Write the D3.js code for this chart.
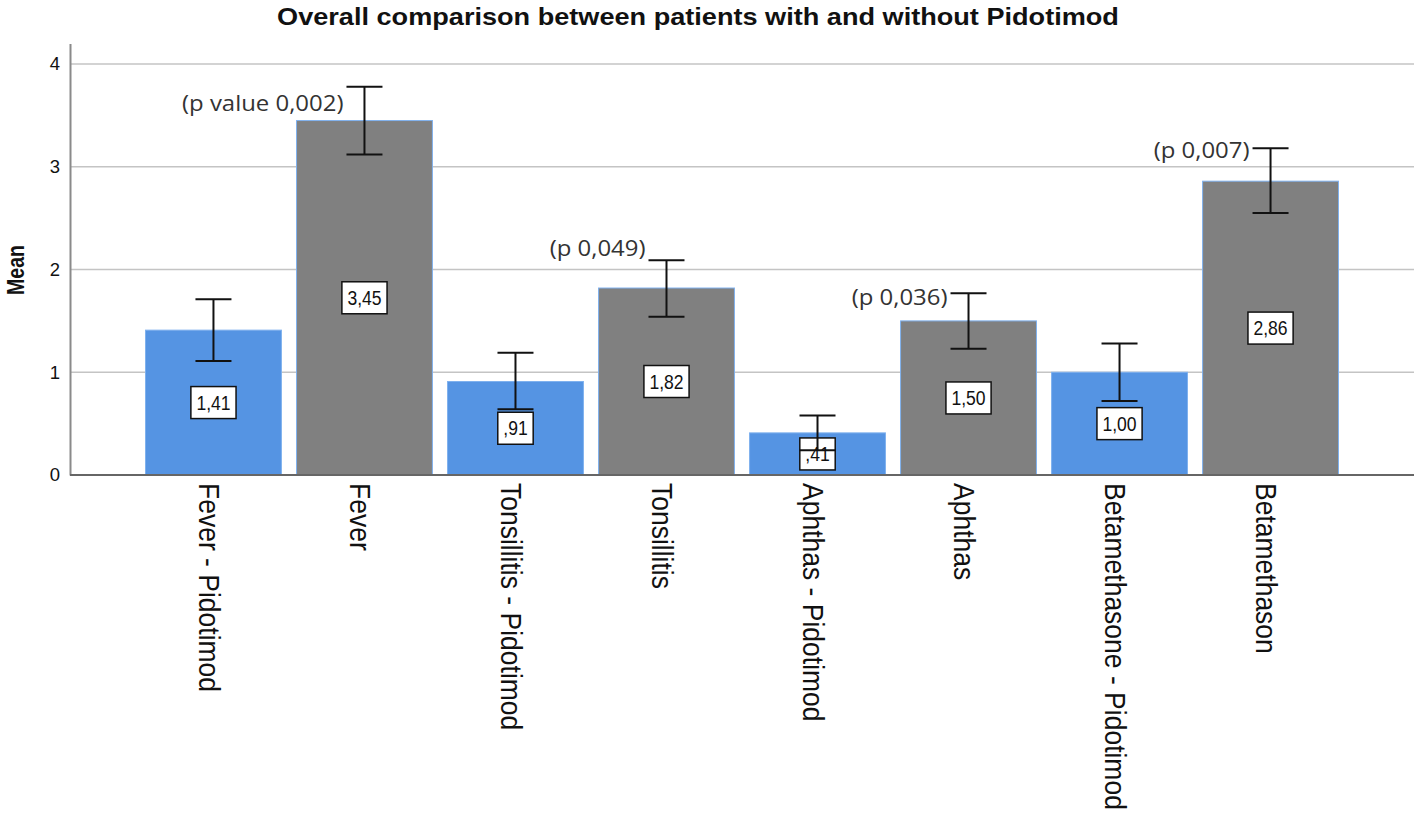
<!DOCTYPE html>
<html>
<head>
<meta charset="utf-8">
<script src="https://cdn.jsdelivr.net/npm/d3@7"></script>
<style>
  html, body { margin: 0; padding: 0; background: #fff; }
  svg { display: block; }
</style>
</head>
<body>
<svg id="chart" width="1418" height="818"></svg>
<script>
// ---- data ----
const categories = ["Fever - Pidotimod", "Fever", "Tonsillitis - Pidotimod", "Tonsillitis",
                    "Aphthas - Pidotimod", "Aphthas", "Betamethasone - Pidotimod", "Betamethason"];
const groups = ["with", "without", "with", "without", "with", "without", "with", "without"];
const means = [1.41, 3.45, 0.91, 1.82, 0.41, 1.50, 1.00, 2.86];
const errLow = [1.11, 3.12, 0.64, 1.54, 0.24, 1.23, 0.72, 2.55];
const errHigh = [1.71, 3.78, 1.19, 2.09, 0.58, 1.77, 1.28, 3.18];
const valueLabels = ["1,41", "3,45", ",91", "1,82", ",41", "1,50", "1,00", "2,86"];
const yTicks = [0, 1, 2, 3, 4];
const annotCategories = ["Fever", "Tonsillitis", "Aphthas", "Betamethason"];
const annotTexts = ["(p value 0,002)", "(p 0,049)", "(p 0,036)", "(p 0,007)"];
const annotY = [3.54, 2.13, 1.65, 3.09];

// ---- layout ----
const svg = d3.select("#chart");
const mLeft = 70, mRight = 1414, mTop = 43.5, mBottom = 475;

const x = d3.scaleBand().domain(categories).range([mLeft, mRight]).paddingInner(0.1).paddingOuter(0.5);
const y = d3.scaleLinear().domain([0, 4.2]).range([mBottom, mTop]);
const cx = d => x(d) + x.bandwidth() / 2;

const colors = { with: "#5594e3", without: "#808080" };
const sans = "'Liberation Sans', Arial, sans-serif";

// gridlines
svg.append("g").selectAll("line").data(yTicks.filter(d => d > 0)).join("line")
  .attr("x1", mLeft).attr("x2", mRight)
  .attr("y1", d => y(d)).attr("y2", d => y(d))
  .attr("stroke", "#c4c4c4").attr("stroke-width", 1.5);

// y axis
const yAxis = d3.axisLeft(y).tickValues(yTicks).tickSize(0).tickPadding(10).tickFormat(d3.format("d"));
const ya = svg.append("g").attr("transform", `translate(${mLeft},0)`).call(yAxis);
ya.select(".domain").attr("stroke", "#8a8a8a").attr("stroke-width", 2);
ya.selectAll("text").attr("font-family", sans)
  .attr("font-size", 18.5).attr("fill", "#111");

// bars
svg.append("g").selectAll("rect").data(categories).join("rect")
  .attr("x", d => x(d)).attr("width", x.bandwidth())
  .attr("y", (d, i) => y(means[i])).attr("height", (d, i) => mBottom - y(means[i]))
  .attr("fill", (d, i) => colors[groups[i]])
  .attr("stroke", "#7fb1ee").attr("stroke-width", 1);

// x baseline
svg.append("line").attr("x1", mLeft).attr("x2", mRight).attr("y1", mBottom).attr("y2", mBottom)
  .attr("stroke", "#666").attr("stroke-width", 2);

// value labels
const vl = svg.append("g").selectAll("g").data(categories).join("g")
  .attr("transform", (d, i) => `translate(${cx(d)},${(y(means[i]) + mBottom) / 2})`);
vl.append("text").text((d, i) => valueLabels[i])
  .attr("text-anchor", "middle").attr("dy", "0.36em")
  .attr("transform", "scale(0.9,1)")
  .attr("font-family", sans)
  .attr("font-size", 19.5).attr("fill", "#111");
vl.each(function () {
  const g = d3.select(this);
  const t = g.select("text").node();
  const w = t.getComputedTextLength() * 0.9;
  g.insert("rect", "text")
    .attr("x", -w / 2 - 5.5).attr("y", -16).attr("width", w + 11).attr("height", 32)
    .attr("fill", "#fff").attr("stroke", "#111").attr("stroke-width", 1.5);
});

// error bars
const cap = 18;
const eb = svg.append("g").selectAll("g").data(categories).join("g")
  .attr("stroke", "#111").attr("stroke-width", 2);
eb.append("line")
  .attr("x1", d => cx(d)).attr("x2", d => cx(d))
  .attr("y1", (d, i) => y(errLow[i])).attr("y2", (d, i) => y(errHigh[i]));
eb.append("line")
  .attr("x1", d => cx(d) - cap).attr("x2", d => cx(d) + cap)
  .attr("y1", (d, i) => y(errHigh[i])).attr("y2", (d, i) => y(errHigh[i]));
eb.append("line")
  .attr("x1", d => cx(d) - cap).attr("x2", d => cx(d) + cap)
  .attr("y1", (d, i) => y(errLow[i])).attr("y2", (d, i) => y(errLow[i]));

// p-value annotations
svg.append("g").selectAll("text").data(annotCategories).join("text")
  .attr("transform", (d, i) => `translate(${cx(d) - cap - 3},${y(annotY[i])}) scale(1.14,1)`)
  .attr("text-anchor", "end")
  .attr("font-family", "'Open Sans', 'Noto Sans', sans-serif")
  .attr("font-size", 21).attr("fill", "#333")
  .text((d, i) => annotTexts[i]);

// x labels (rotated)
svg.append("g").selectAll("text").data(categories).join("text")
  .attr("transform", d => `translate(${cx(d) - 4},${mBottom + 8}) scale(1.12,1) rotate(90)`)
  .attr("dy", "0.35em")
  .attr("text-anchor", "start")
  .attr("font-family", sans)
  .attr("font-size", 26.5).attr("fill", "#111")
  .text(d => d);

// title
svg.append("text").attr("transform", "translate(698,25) scale(1.13,1)")
  .attr("text-anchor", "middle")
  .attr("font-family", sans)
  .attr("font-weight", "bold").attr("font-size", 24).attr("fill", "#111")
  .text("Overall comparison between patients with and without Pidotimod");

// y axis title
svg.append("text").attr("transform", `translate(24,${270}) scale(1.2,1) rotate(-90)`)
  .attr("text-anchor", "middle")
  .attr("font-family", sans)
  .attr("font-weight", "bold").attr("font-size", 19.5).attr("fill", "#111")
  .text("Mean");
</script>
</body>
</html>
